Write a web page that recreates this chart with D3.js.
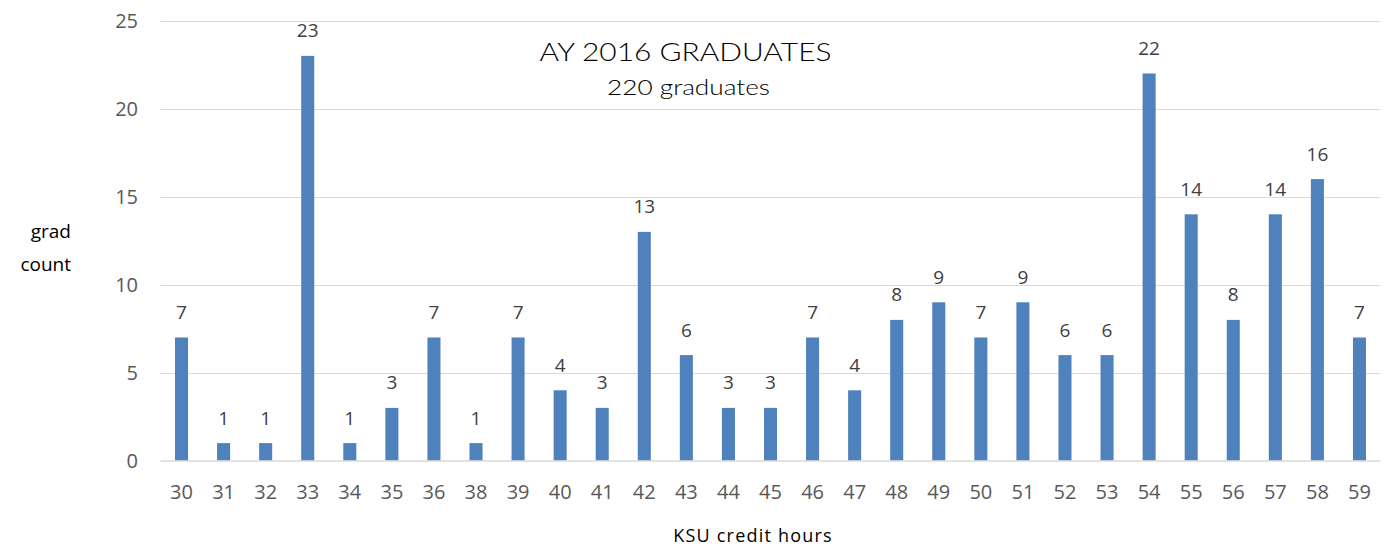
<!DOCTYPE html>
<html><head><meta charset="utf-8">
<script src="https://cdn.jsdelivr.net/npm/d3@7"></script>
<style>body{margin:0;background:#fff}svg{display:block}</style>
</head><body>
<script>
const categories = ["30","31","32","33","34","35","36","38","39","40","41","42","43","44","45","46","47","48","49","50","51","52","53","54","55","56","57","58","59"];
const values = [7,1,1,23,1,3,7,1,7,4,3,13,6,3,3,7,4,8,9,7,9,6,6,22,14,8,14,16,7];
const yTicks = [0,5,10,15,20,25];
const title = "AY 2016 GRADUATES";
const subtitle = "220 graduates";
const xTitle = "KSU credit hours";
const yTitle = ["grad","count"];

const W = 1390, H = 546;
const svg = d3.select("body").append("svg").attr("width", W).attr("height", H);
const x = d3.scaleBand().domain(categories).range([160.5, 1380.5]).paddingInner(0.69).paddingOuter(0.345);
const y = d3.scaleLinear().domain([0,25]).range([460.7, 20.7]);
const font = "'Open Sans', 'Liberation Sans', sans-serif";
const tfont = "'Lato', 'DejaVu Sans', sans-serif";

// gridlines
svg.append("g").selectAll("line").data(yTicks.filter(d=>d>0)).join("line")
  .attr("x1",160.5).attr("x2",1380.5).attr("y1",d=>Math.round(y(d))+0.5).attr("y2",d=>Math.round(y(d))+0.5)
  .attr("stroke","#d9d9d9").attr("stroke-width",1);

// bars
svg.append("g").selectAll("rect").data(values).join("rect")
  .attr("x",(d,i)=>x(categories[i])).attr("width",x.bandwidth())
  .attr("y",d=>y(d)).attr("height",d=>y(0)-y(d)).attr("fill","#4f81bd");

// baseline
svg.append("line").attr("x1",160.5).attr("x2",1380.5).attr("y1",461).attr("y2",461)
  .attr("stroke","#d9d9d9").attr("stroke-width",1.5);

// y axis labels
const ya = svg.append("g").attr("transform","translate(138,0)")
  .call(d3.axisLeft(y).tickValues(yTicks).tickSize(0).tickPadding(0));
ya.select(".domain").remove();
ya.selectAll("text").attr("font-family",font).attr("font-size",20).attr("fill","#595959");

// x axis labels
const xa = svg.append("g").attr("transform","translate(0,484.8)")
  .call(d3.axisBottom(x).tickSize(0).tickPadding(0));
xa.select(".domain").remove();
xa.selectAll("text").attr("font-family",font).attr("font-size",20).attr("fill","#595959");

// data labels
svg.append("g").selectAll("text").data(values).join("text")
  .attr("x",(d,i)=>x(categories[i])+x.bandwidth()/2).attr("y",d=>y(d)-18.5)
  .attr("text-anchor","middle").attr("font-family",font).attr("font-size",19).attr("fill","#404040")
  .text(d=>d);

// titles
svg.append("text").attr("x",685.5).attr("y",60.7).attr("text-anchor","middle")
  .attr("font-family",tfont).attr("font-weight",300).attr("font-size",25).attr("fill","#000")
  .attr("textLength",292).attr("lengthAdjust","spacingAndGlyphs").text(title);
svg.append("text").attr("x",688.5).attr("y",95).attr("text-anchor","middle")
  .attr("font-family",tfont).attr("font-weight",300).attr("font-size",21).attr("fill","#000")
  .attr("textLength",163).attr("lengthAdjust","spacingAndGlyphs").text(subtitle);

svg.append("text").attr("x",753).attr("y",541.7).attr("text-anchor","middle")
  .attr("font-family",font).attr("font-size",18).attr("letter-spacing",1.2).attr("fill","#000").text(xTitle);
svg.append("g").selectAll("text").data(yTitle).join("text")
  .attr("x",71).attr("y",(d,i)=>238+i*33).attr("text-anchor","end")
  .attr("font-family",font).attr("font-size",19).attr("fill","#000").text(d=>d);
</script>
</body></html>
